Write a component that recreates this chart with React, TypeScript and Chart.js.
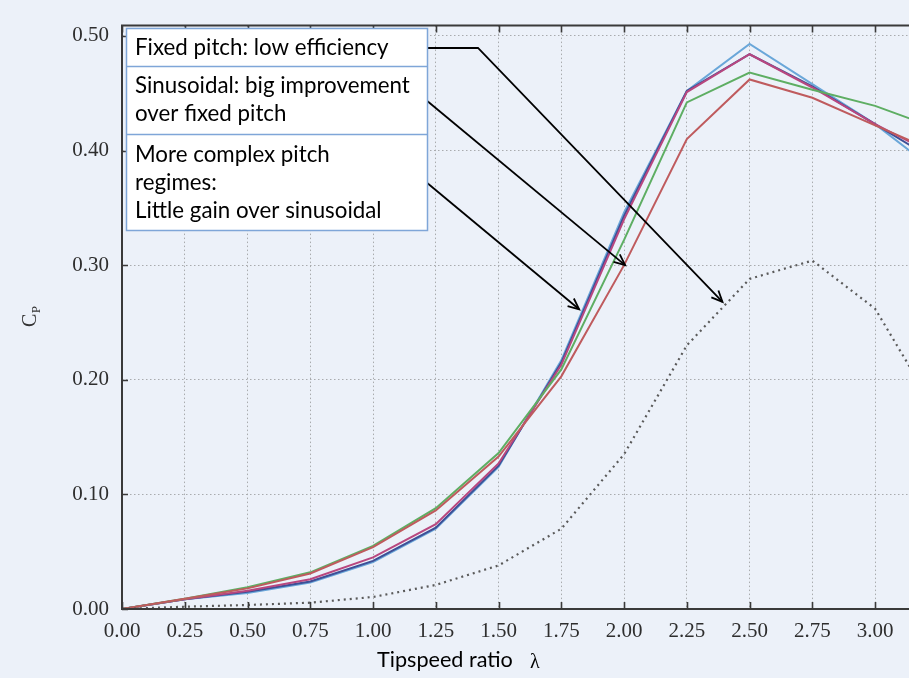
import React, { useEffect, useRef } from 'react';
import { Chart, registerables } from 'chart.js';

Chart.register(...registerables);

// ---------- data ----------
const tipSpeed = [0, 0.25, 0.5, 0.75, 1.0, 1.25, 1.5, 1.75, 2.0, 2.25, 2.5, 2.75, 3.0, 3.25];
const cpLightBlue = [0, 0.0085, 0.014, 0.023, 0.041, 0.070, 0.124, 0.217, 0.346, 0.452, 0.493, 0.458, 0.423, 0.381];
const cpNavy = [0, 0.0085, 0.015, 0.024, 0.042, 0.071, 0.125, 0.215, 0.343, 0.452, 0.484, 0.456, 0.423, 0.390];
const cpMagenta = [0, 0.0085, 0.016, 0.026, 0.045, 0.074, 0.127, 0.213, 0.340, 0.451, 0.484, 0.455, 0.423, 0.395];
const cpGreen = [0, 0.009, 0.019, 0.032, 0.055, 0.088, 0.136, 0.209, 0.322, 0.442, 0.468, 0.453, 0.439, 0.419];
const cpRed = [0, 0.009, 0.018, 0.031, 0.054, 0.086, 0.133, 0.203, 0.300, 0.410, 0.462, 0.446, 0.422, 0.398];
const cpFixed = [0, 0.002, 0.0035, 0.0055, 0.0105, 0.021, 0.038, 0.070, 0.135, 0.230, 0.288, 0.304, 0.262, 0.170];

const xTickValues = [0, 0.25, 0.5, 0.75, 1.0, 1.25, 1.5, 1.75, 2.0, 2.25, 2.5, 2.75, 3.0];
const yTickValues = [0, 0.1, 0.2, 0.3, 0.4, 0.5];

const calloutRows = [
  ['Fixed pitch: low efficiency'],
  ['Sinusoidal: big improvement', 'over fixed pitch'],
  ['More complex pitch', 'regimes:', 'Little gain over sinusoidal'],
];
// arrow tips in data coordinates (lambda, Cp)
const arrowTipX = [2.392, 2.004, 1.821];
const arrowTipY = [0.268, 0.300, 0.2615];

const xTitle = 'Tipspeed ratio';
const xTitleSymbol = 'λ';
const yTitleMain = 'C';
const yTitleSub = 'P';

// ---------- styles ----------
const BG = '#ecf1f9';
const FRAME = '#3a3a3a';
const TICK_FONT = '"Liberation Serif", "DejaVu Serif", serif';
const SANS = 'Lato, "Open Sans", sans-serif';

const toXY = (ys: number[]) => tipSpeed.map((x, i) => ({ x, y: ys[i] }));

function drawArrow(ctx: CanvasRenderingContext2D, pts: number[][]) {
  ctx.beginPath();
  ctx.moveTo(pts[0][0], pts[0][1]);
  for (let i = 1; i < pts.length; i++) ctx.lineTo(pts[i][0], pts[i][1]);
  ctx.stroke();
  const [x1, y1] = pts[pts.length - 2];
  const [x2, y2] = pts[pts.length - 1];
  const ang = Math.atan2(y2 - y1, x2 - x1);
  const L = 12;
  const s = 0.42;
  ctx.beginPath();
  ctx.moveTo(x2 - L * Math.cos(ang - s), y2 - L * Math.sin(ang - s));
  ctx.lineTo(x2, y2);
  ctx.lineTo(x2 - L * Math.cos(ang + s), y2 - L * Math.sin(ang + s));
  ctx.stroke();
}

const bgPlugin = {
  id: 'bgFill',
  beforeDraw(chart: any) {
    const { ctx, width, height } = chart;
    ctx.save();
    ctx.fillStyle = BG;
    ctx.fillRect(0, 0, width, height);
    ctx.restore();
  },
};

const overlayPlugin = {
  id: 'overlay',
  afterDraw(chart: any) {
    const { ctx, chartArea: a, scales } = chart;
    const xs = scales.x;
    const ys = scales.y;
    ctx.save();

    // frame
    ctx.strokeStyle = FRAME;
    ctx.lineWidth = 2;
    ctx.beginPath();
    ctx.moveTo(a.right, a.top);
    ctx.lineTo(a.left, a.top);
    ctx.lineTo(a.left, a.bottom);
    ctx.lineTo(a.right, a.bottom);
    ctx.stroke();

    // inward ticks
    ctx.lineWidth = 1.6;
    ctx.beginPath();
    for (const v of xTickValues) {
      const px = Math.round(xs.getPixelForValue(v)) + 0.5;
      ctx.moveTo(px, a.bottom);
      ctx.lineTo(px, a.bottom - 7);
      ctx.moveTo(px, a.top);
      ctx.lineTo(px, a.top + 7);
    }
    for (const v of yTickValues) {
      const py = Math.round(ys.getPixelForValue(v)) + 0.5;
      ctx.moveTo(a.left, py);
      ctx.lineTo(a.left + 6, py);
    }
    ctx.stroke();

    // arrows
    ctx.strokeStyle = '#000';
    ctx.lineWidth = 1.8;
    const tips = arrowTipX.map((v, i) => [xs.getPixelForValue(v), ys.getPixelForValue(arrowTipY[i])]);
    drawArrow(ctx, [[420, 48], [478, 48], tips[0]]);
    drawArrow(ctx, [[420, 95], tips[1]]);
    drawArrow(ctx, [[420, 177], tips[2]]);

    // callout box
    const bx = 126, bw = 301;
    const rowsY = [28, 66, 134, 230];
    ctx.fillStyle = '#ffffff';
    ctx.fillRect(bx, rowsY[0], bw, rowsY[3] - rowsY[0]);
    ctx.strokeStyle = '#7fa6d8';
    ctx.lineWidth = 1.5;
    ctx.strokeRect(bx + 0.5, rowsY[0] + 0.5, bw, rowsY[3] - rowsY[0]);
    ctx.beginPath();
    ctx.moveTo(bx, rowsY[1] + 0.5);
    ctx.lineTo(bx + bw, rowsY[1] + 0.5);
    ctx.moveTo(bx, rowsY[2] + 0.5);
    ctx.lineTo(bx + bw, rowsY[2] + 0.5);
    ctx.stroke();

    ctx.font = `100px ${SANS}`;
    const refW = ctx.measureText('Sinusoidal: big improvement').width;
    const fs = (100 * 275) / refW;
    ctx.font = `${fs}px ${SANS}`;
    ctx.fillStyle = '#000';
    ctx.textAlign = 'left';
    ctx.textBaseline = 'alphabetic';
    const baselines = [[55], [93, 121], [162, 190, 218]];
    calloutRows.forEach((row, r) => {
      row.forEach((line, k) => ctx.fillText(line, 135, baselines[r][k]));
    });

    // x title
    ctx.font = `100px ${SANS}`;
    const tw = ctx.measureText(xTitle).width;
    ctx.font = `${(100 * 136) / tw}px ${SANS}`;
    ctx.fillStyle = '#000';
    ctx.fillText(xTitle, 377, a.bottom + 58);
    ctx.font = `20px ${TICK_FONT}`;
    ctx.fillText(xTitleSymbol, 530, a.bottom + 59);

    // y title (rotated)
    ctx.save();
    ctx.translate(36, 327);
    ctx.rotate(-Math.PI / 2);
    ctx.fillStyle = '#333';
    ctx.font = `20px ${TICK_FONT}`;
    ctx.fillText(yTitleMain, 0, 0);
    const cw = ctx.measureText(yTitleMain).width;
    ctx.font = `13px ${TICK_FONT}`;
    ctx.fillText(yTitleSub, cw + 0.5, 4);
    ctx.restore();

    ctx.restore();
  },
};

export default function App() {
  const ref = useRef<HTMLCanvasElement>(null);

  useEffect(() => {
    document.body.style.margin = '0';
    const canvas = ref.current!;
    const line = (label: string, data: number[], color: string, dash?: number[]) => ({
      label,
      data: toXY(data),
      borderColor: color,
      backgroundColor: color,
      borderWidth: dash ? 2.2 : 2,
      borderDash: dash || [],
      pointRadius: 0,
      tension: 0,
      fill: false,
    });

    const chart = new Chart(canvas, {
      type: 'line',
      data: {
        datasets: [
          line('Fixed pitch', cpFixed, '#5a5a5a', [2, 4]),
          line('Red', cpRed, '#bf5b5e'),
          line('Green', cpGreen, '#5eae63'),
          line('Magenta', cpMagenta, '#b8477f'),
          line('Navy', cpNavy, '#3e4f96'),
          line('Light blue', cpLightBlue, '#6aa7d9'),
        ],
      },
      options: {
        responsive: false,
        animation: false,
        events: [],
        layout: { padding: { top: 21, right: 0, left: 0, bottom: 0 } },
        plugins: {
          legend: { display: false },
          tooltip: { enabled: false },
          title: { display: false },
        },
        scales: {
          x: {
            type: 'linear',
            min: 0,
            max: 3.135,
            afterFit: (s: any) => {
              s.height = 69;
            },
            ticks: {
              stepSize: 0.25,
              includeBounds: false,
              autoSkip: false,
              maxRotation: 0,
              padding: 10,
              color: '#2e2e2e',
              font: { family: TICK_FONT, size: 21 },
              callback: (v: any) => Number(v).toFixed(2),
            },
            grid: { color: '#a9abae', lineWidth: 1, drawTicks: false },
            border: { display: false, dash: [1.5, 2.5] },
          },
          y: {
            type: 'linear',
            min: 0,
            max: 0.509,
            afterFit: (s: any) => {
              s.width = 122;
            },
            ticks: {
              stepSize: 0.1,
              includeBounds: false,
              padding: 13,
              color: '#2e2e2e',
              font: { family: TICK_FONT, size: 21 },
              callback: (v: any) => Number(v).toFixed(2),
            },
            grid: { color: '#a9abae', lineWidth: 1, drawTicks: false },
            border: { display: false, dash: [1.5, 2.5] },
          },
        },
      } as any,
      plugins: [bgPlugin, overlayPlugin],
    });
    return () => chart.destroy();
  }, []);

  return (
    <div style={{ width: 909, height: 678 }}>
      <canvas ref={ref} width={909} height={678} style={{ display: 'block' }} />
    </div>
  );
}
